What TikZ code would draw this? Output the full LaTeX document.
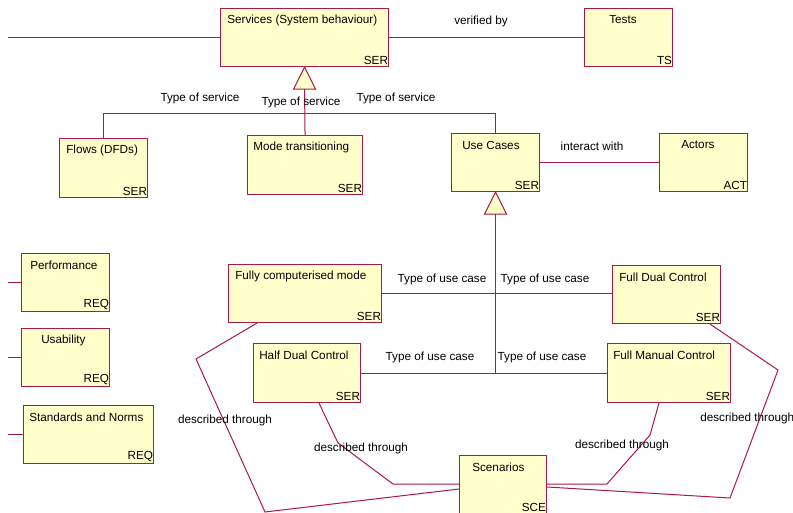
\documentclass[tikz,border=0pt]{standalone}
\usepackage{fontspec}
\setmainfont{Liberation Sans}
\usetikzlibrary{calc, math}
\definecolor{mymaroon}{RGB}{172,24,72}
\definecolor{myyellow}{RGB}{255,255,204}

\tikzset{
  box/.style={draw=mymaroon, fill=myyellow, line width=0.8pt, anchor=north west, inner sep=0pt},
  boxtitle/.style={anchor=west, inner sep=0pt, font=\fontsize{8.8}{10}\selectfont},
  boxtag/.style={anchor=south east, inner xsep=0.6pt, inner ysep=1.5pt, font=\fontsize{8.8}{10}\selectfont},
  link/.style={draw=mymaroon, line width=0.75pt},
  gen/.style={draw=mymaroon, fill=myyellow, line width=0.75pt},
  lbl/.style={inner sep=0pt, font=\fontsize{8.8}{10}\selectfont}
}

% name, left, top, width, height, title shift, title, tag
\newcommand{\umlbox}[8]{
  \node[box, minimum width=#4*0.75pt, minimum height=#5*0.75pt] (#1) at (#2,#3) {};
  \node[boxtitle] (#1-t) at ($(#1.north west)+(#6,12)$) {#7};
  \node[boxtag] (#1-g) at (#1.south east) {#8};
}

\begin{document}
\begin{tikzpicture}[x=0.75pt, y=-0.75pt]
\tikzmath{
\tri=11;
}
\fill[white] (0,0) rectangle (793,513);
\useasboundingbox (0,0) rectangle (793,513);

% top row
\umlbox{ser}{220}{8}{168}{58}{7}{Services (System behaviour)}{SER}
\umlbox{tst}{584}{8}{88}{58}{25}{Tests}{TS}

% kinds of service
\umlbox{flw}{59}{138}{88}{59}{7}{Flows (DFDs)}{SER}
\umlbox{mod}{247}{135}{115}{59}{6}{Mode transitioning}{SER}
\umlbox{ucs}{451}{133}{88}{58}{11}{Use Cases}{SER}
\umlbox{act}{659}{133}{88}{58}{22}{Actors}{ACT}

% requirements
\umlbox{prf}{21}{253}{88}{58}{9}{Performance}{REQ}
\umlbox{usb}{21}{328}{88}{58}{20}{Usability}{REQ}
\umlbox{std}{23}{405}{130}{58}{6}{Standards and Norms}{REQ}

% kinds of use case
\umlbox{fcm}{228}{264}{153}{58}{7}{Fully computerised mode}{SER}
\umlbox{fdc}{612}{265}{108}{58}{7}{Full Dual Control}{SER}
\umlbox{hdc}{253}{343}{107}{59}{6}{Half Dual Control}{SER}
\umlbox{fmc}{607}{343}{123}{59}{6}{Full Manual Control}{SER}
\umlbox{scn}{459}{455}{87}{58}{13}{Scenarios}{SCE}

% associations
\coordinate (stub) at (8,0);
\draw[link] (stub |- ser.west) -- (ser.west);
\draw[link] (ser.east) -- (tst.west);
\node[lbl] (vby) at (481,21) {verified by};
\draw[link] (ucs.east) -- (act.west);
\node[lbl] (iwt) at (592,146) {interact with};
\draw[link] (stub |- prf.west) -- (prf.west);
\draw[link] (stub |- usb.west) -- (usb.west);
\draw[link] (stub |- std.west) -- (std.west);

% generalisation of services
\draw[gen] (ser.south) -- ++(\tri,2*\tri) -- ++(-2*\tri,0) -- cycle;
\coordinate (sertri) at ($(ser.south)+(0,2*\tri)$);
\coordinate (bar) at (0,114);
\draw[link] (mod.north) -- (sertri);
\draw[link] (flw.north) -- (flw.north |- bar) -- (ucs.north |- bar) -- (ucs.north);
\node[lbl] (tos1) at (200,98) {Type of service};
\node[lbl] (tos2) at (301,102) {Type of service};
\node[lbl] (tos3) at (396,98) {Type of service};

% generalisation of use cases
\draw[gen] (ucs.south) -- ++(\tri,2*\tri) -- ++(-2*\tri,0) -- cycle;
\coordinate (ucstri) at ($(ucs.south)+(0,2*\tri)$);
\draw[link] (ucstri) -- (ucstri |- hdc.east);
\draw[link] (fcm.east) -- (fcm.east -| fdc.west);
\draw[link] (hdc.east) -- (fmc.west);
\node[lbl] (tuc1) at (442,279) {Type of use case};
\node[lbl] (tuc2) at (545,279) {Type of use case};
\node[lbl] (tuc3) at (430,357) {Type of use case};
\node[lbl] (tuc4) at (542,357) {Type of use case};

% scenarios
\draw[link] ($(fcm.south west)+(29,0)$) -- (196,359) -- (265,512) -- ($(scn.north west)+(0,34)$);
\draw[link] ($(hdc.south west)+(66,0)$) -- (338,443) -- (393,484) -- ($(scn.north west)+(0,29)$);
\draw[link] ($(fmc.south west)+(52,0)$) -- (650,435) -- (607,484) -- ($(scn.north east)+(0,29)$);
\draw[link] ($(fdc.south west)+(98,0)$) -- (778,370) -- (730,498) -- ($(scn.north east)+(0,32)$);
\node[lbl] (dth1) at (225,420) {described through};
\node[lbl] (dth2) at (361,448) {described through};
\node[lbl] (dth3) at (622,445) {described through};
\node[lbl, anchor=west] (dth4) at (700,418) {described through};
\end{tikzpicture}
\end{document}
